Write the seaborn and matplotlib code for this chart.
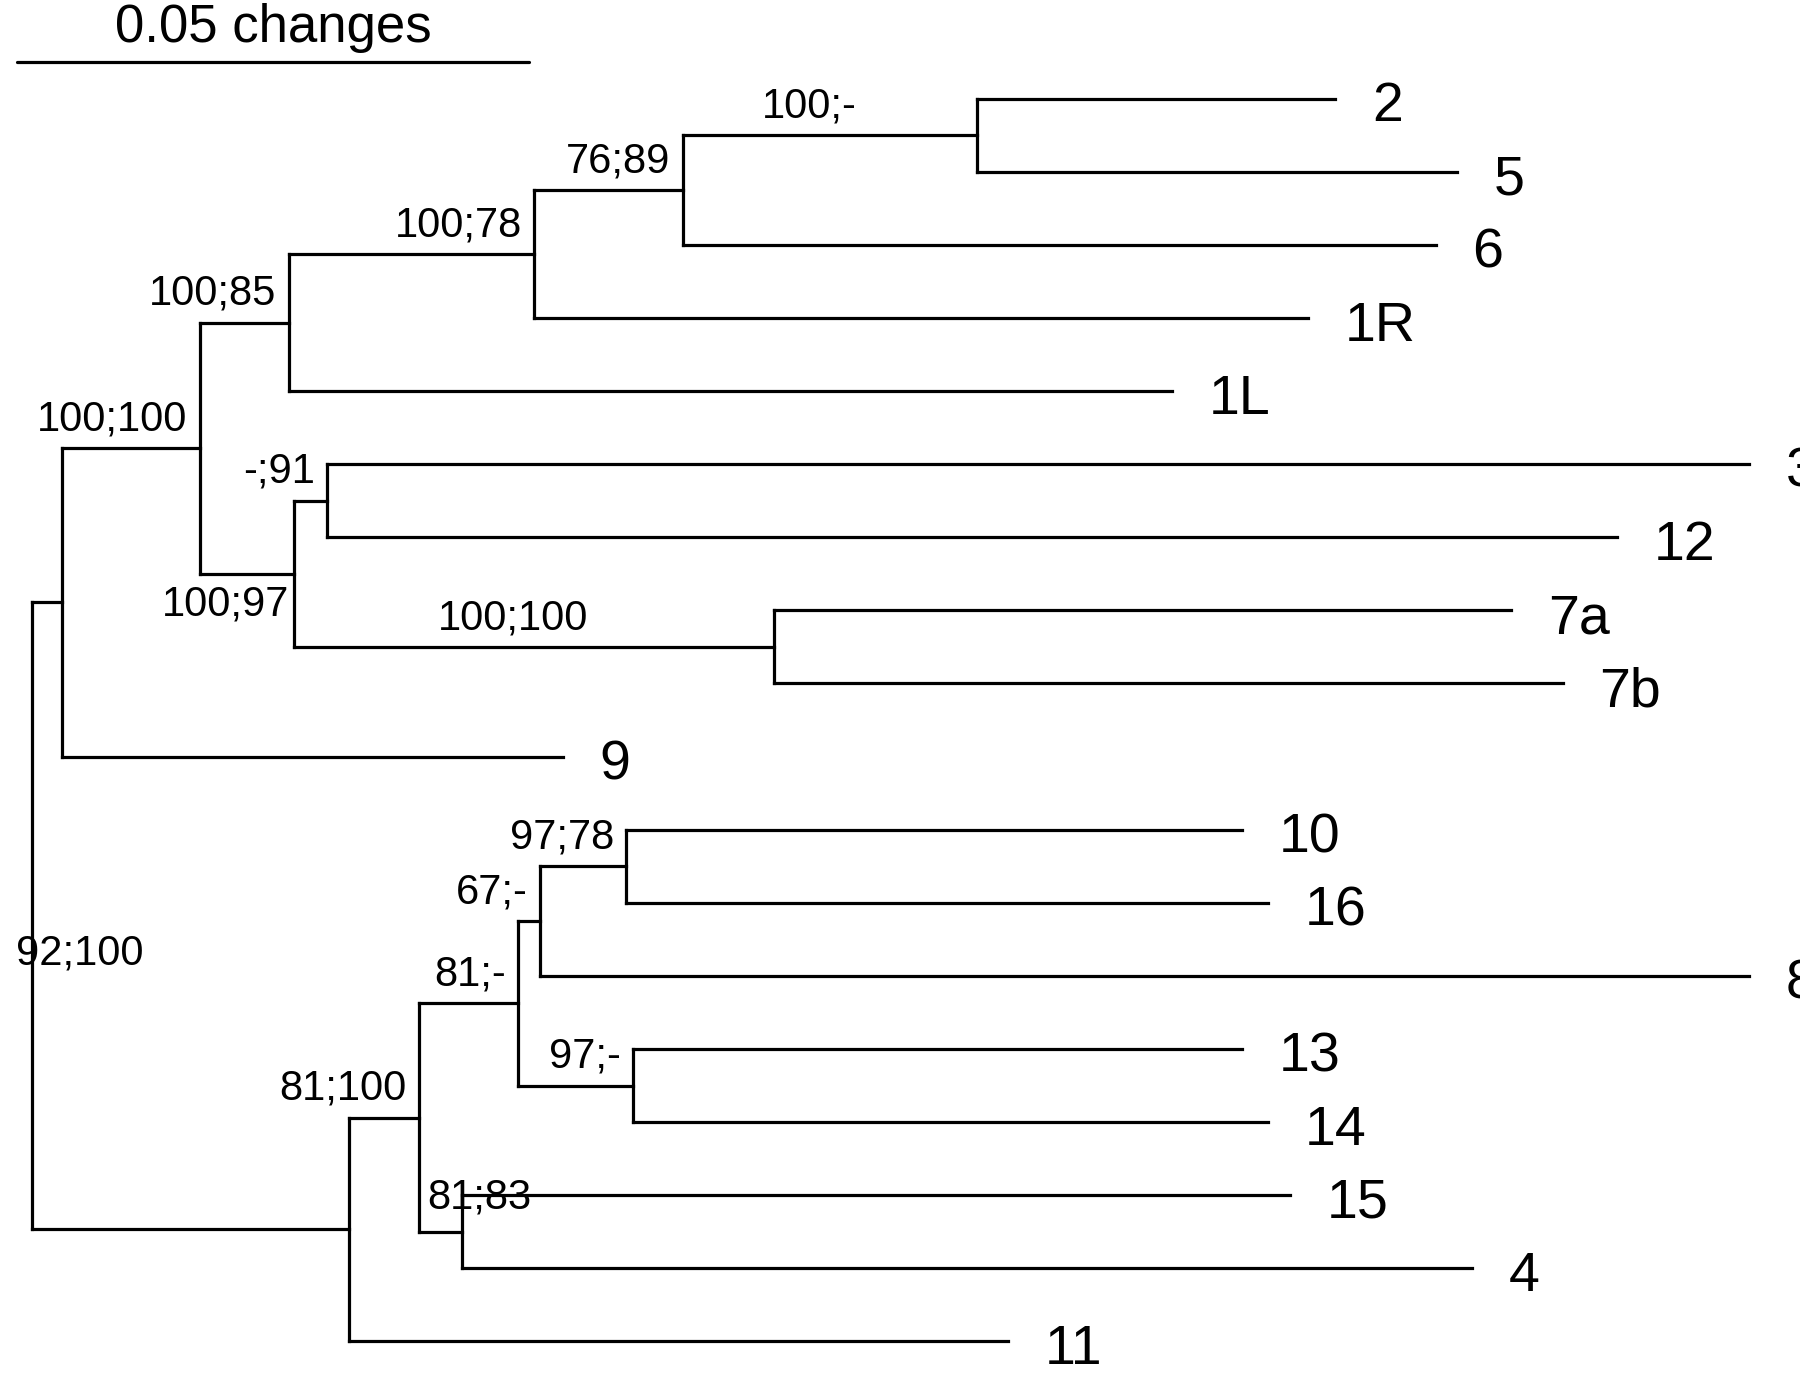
import matplotlib.pyplot as plt
import seaborn as sns

sns.set_theme(style="white")
plt.rcParams['font.family'] = ['Liberation Sans', 'DejaVu Sans']
plt.rcParams['text.color'] = 'black'

# leaves from top to bottom and their distance from the root (changes)
leaves = ['2', '5', '6', '1R', '1L', '3', '12', '7a', '7b', '9',
          '10', '16', '8', '13', '14', '15', '4', '11']
leaf_depth = [0.1274, 0.1393, 0.1372, 0.1247, 0.1114, 0.1678, 0.1549, 0.1446, 0.1496, 0.0519,
              0.1183, 0.1208, 0.1678, 0.1183, 0.1208, 0.1230, 0.1407, 0.0954]

# internal nodes: name, children, depth
nodes = ['root', 'A', 'B', 'C', 'E', 'F', 'G', 'D', 'H', 'I',
         'J', 'K', 'L', 'N', 'P', 'O', 'M']
node_children = [['A', 'J'], ['B', '9'], ['C', 'D'], ['E', '1L'], ['F', '1R'], ['G', '6'],
                 ['2', '5'], ['H', 'I'], ['3', '12'], ['7a', '7b'],
                 ['K', '11'], ['L', 'M'], ['N', 'O'], ['P', '8'], ['10', '16'],
                 ['13', '14'], ['15', '4']]
node_depth = [0.0, 0.0030, 0.0164, 0.0251, 0.0491, 0.0636, 0.0924, 0.0256, 0.0289, 0.0725,
              0.0310, 0.0378, 0.0475, 0.0497, 0.0581, 0.0588, 0.0420]

# support values (bootstrap; other) per clade
support_node = ['B', 'C', 'E', 'F', 'G', 'D', 'H', 'I', 'J', 'K', 'L', 'N', 'P', 'O', 'M']
support_text = ['100;100', '100;85', '100;78', '76;89', '100;-', '100;97', '-;91', '100;100',
                '92;100', '81;100', '81;-', '67;-', '97;78', '97;-', '81;83']

depth = dict(zip(leaves, leaf_depth))
depth.update(zip(nodes, node_depth))
ypos = {name: i for i, name in enumerate(leaves)}
children = dict(zip(nodes, node_children))
parent = {c: p for p, cs in children.items() for c in cs}

def get_y(n):
    if n not in ypos:
        ypos[n] = (get_y(children[n][0]) + get_y(children[n][1])) / 2
    return ypos[n]

get_y('root')

fig = plt.figure(figsize=(18, 13.75), dpi=100)
ax = fig.add_axes([0, 0, 1, 1])
lw = 2.3
for n, cs in children.items():
    ax.plot([depth[n], depth[n]], [ypos[cs[0]], ypos[cs[1]]], color='black', lw=lw,
            solid_capstyle='projecting')
    for c in cs:
        ax.plot([depth[n], depth[c]], [ypos[c], ypos[c]], color='black', lw=lw,
                solid_capstyle='projecting')

for name in leaves:
    ax.text(depth[name] + 0.0036, ypos[name] + 0.12, name, fontsize=40, ha='left', va='center')

for n, t in zip(support_node, support_text):
    x0 = depth[parent[n]]
    x1 = depth[n]
    y = ypos[n]
    if n in ('G', 'I'):
        ax.text((x0 + x1) / 2 - 0.002, y - 0.12, t, fontsize=30, ha='center', va='bottom')
    elif n == 'D':
        ax.text(x1 - 0.0004, y + 0.15, t, fontsize=30, ha='right', va='top')
    elif n == 'M':
        ax.text(x0 + 0.0009, y - 0.2, t, fontsize=30, ha='left', va='bottom')
    elif n == 'J':
        ax.text(-0.0015, 11.7, t, fontsize=30, ha='left', va='center')
    else:
        ax.text(x1 - 0.0012, y - 0.12, t, fontsize=30, ha='right', va='bottom')

# scale bar
sb_start, sb_len = -0.0014, 0.05
ax.plot([sb_start, sb_start + sb_len], [-0.5, -0.5], color='black', lw=lw)
ax.text(sb_start + sb_len / 2, -0.97, '0.05 changes', fontsize=38, ha='center', va='center')

ax.set_xlim(-0.0031, 0.1728)
ax.set_ylim(17.46, -1.35)
ax.axis('off')
fig.savefig('out.png', dpi=100)
